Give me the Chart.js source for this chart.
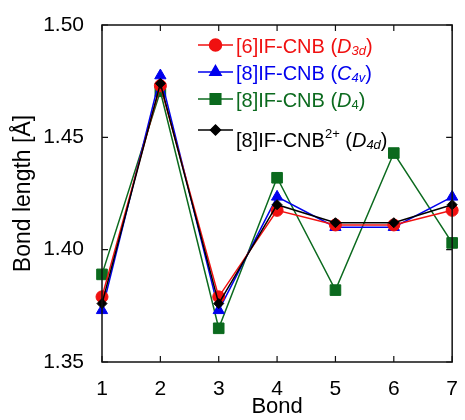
<!DOCTYPE html>
<html>
<head>
<meta charset="utf-8">
<script src="https://cdn.jsdelivr.net/npm/chart.js@4/dist/chart.umd.min.js"></script>
<style>
  body { margin: 0; background: #fff; }
  #wrap { width: 465px; height: 420px; }
</style>
</head>
<body>
<div id="wrap"><canvas id="bondChart" width="465" height="420"></canvas></div>
<script>
var bonds = [1, 2, 3, 4, 5, 6, 7];
var d3dValues = [1.379, 1.473, 1.379, 1.4175, 1.411, 1.411, 1.4175];
var c4vValues = [1.373, 1.4775, 1.373, 1.4235, 1.410, 1.410, 1.4235];
var d4Values = [1.389, 1.4705, 1.365, 1.432, 1.382, 1.443, 1.403];
var d4dValues = [1.376, 1.474, 1.376, 1.420, 1.412, 1.412, 1.420];
var yTicks = [1.35, 1.40, 1.45, 1.50];

var FONT = "'Liberation Sans', Arial, sans-serif";
var RED = "#f01010", BLUE = "#0000ee", GREEN = "#0b6a1e", BLACK = "#000000";

function pts(vals) {
  return vals.map(function (v, i) { return { x: bonds[i], y: v }; });
}

// legend rows: text pieces [text, italic, "sub"/"sup"/null]
var legendRows = [
  { ds: 0, color: RED, parts: [["[6]IF-CNB (", false, null], ["D", true, null], ["3d", true, "sub"], [")", false, null]] },
  { ds: 1, color: BLUE, parts: [["[8]IF-CNB (", false, null], ["C", true, null], ["4v", true, "sub"], [")", false, null]] },
  { ds: 2, color: GREEN, parts: [["[8]IF-CNB (", false, null], ["D", true, null], ["4", false, "sub"], [")", false, null]] },
  { ds: 3, color: BLACK, parts: [["[8]IF-CNB", false, null], ["2+", false, "sup"], [" (", false, null], ["D", true, null], ["4d", true, "sub"], [")", false, null]] }
];
var legendY = [45, 72, 99, 130];
var legendTextY = [46, 73, 100, 140];

var framePlugin = {
  id: "frame",
  afterDraw: function (chart) {
    var ctx = chart.ctx, a = chart.chartArea;
    var xs = chart.scales.x, ys = chart.scales.y;
    ctx.save();
    ctx.strokeStyle = "#111";
    ctx.lineWidth = 1.5;
    ctx.strokeRect(a.left, a.top, a.right - a.left, a.bottom - a.top);
    ctx.lineWidth = 1.2;
    ctx.beginPath();
    bonds.forEach(function (b) {
      var px = xs.getPixelForValue(b);
      ctx.moveTo(px, a.bottom); ctx.lineTo(px, a.bottom - 6);
      ctx.moveTo(px, a.top); ctx.lineTo(px, a.top + 6);
    });
    yTicks.forEach(function (t) {
      var py = ys.getPixelForValue(t);
      ctx.moveTo(a.left, py); ctx.lineTo(a.left + 6, py);
      ctx.moveTo(a.right, py); ctx.lineTo(a.right - 6, py);
    });
    ctx.stroke();

    // legend
    legendRows.forEach(function (row, i) {
      var ds = chart.data.datasets[row.ds];
      var y = legendY[i];
      ctx.strokeStyle = row.color;
      ctx.lineWidth = 1.5;
      ctx.beginPath();
      ctx.moveTo(198, y); ctx.lineTo(233, y);
      ctx.stroke();
      ctx.fillStyle = row.color;
      Chart.helpers.drawPoint(ctx, {
        pointStyle: ds.pointStyle, radius: ds.pointRadius, rotation: 0, borderWidth: 1
      }, 215.5, y);
      ctx.fill();
      var x = 236;
      var ty = legendTextY[i];
      ctx.textBaseline = "alphabetic";
      row.parts.forEach(function (p) {
        var size = p[2] ? 13 : 20;
        var dy = p[2] === "sub" ? 2 : (p[2] === "sup" ? -9 : 0);
        ctx.font = (p[1] ? "italic " : "") + size + "px " + FONT;
        ctx.fillText(p[0], x, ty + 7 + dy);
        x += ctx.measureText(p[0]).width;
      });
    });
    ctx.restore();
  }
};

function series(label, vals, color, style, radius, order) {
  return {
    label: label,
    data: pts(vals),
    borderColor: color,
    backgroundColor: color,
    pointBackgroundColor: color,
    pointBorderColor: color,
    pointStyle: style,
    pointRadius: radius,
    pointBorderWidth: 1,
    borderWidth: 1.5,
    tension: 0,
    order: order
  };
}

new Chart(document.getElementById("bondChart"), {
  type: "line",
  data: {
    datasets: [
      series("[6]IF-CNB (D3d)", d3dValues, RED, "circle", 6, 1),
      series("[8]IF-CNB (C4v)", c4vValues, BLUE, "triangle", 6.5, 2),
      series("[8]IF-CNB (D4)", d4Values, GREEN, "rect", 7.5, 3),
      series("[8]IF-CNB2+ (D4d)", d4dValues, BLACK, "rectRot", 5, 0)
    ]
  },
  options: {
    responsive: false,
    animation: false,
    clip: false,
    layout: { padding: { left: 0, right: 7, top: 25, bottom: 0 } },
    plugins: { legend: { display: false }, tooltip: { enabled: false } },
    scales: {
      x: {
        type: "linear",
        min: 1, max: 7,
        afterFit: function (s) { s.height = 58; },
        afterBuildTicks: function (s) { s.ticks = bonds.map(function (b) { return { value: b }; }); },
        grid: { display: false },
        border: { display: false },
        ticks: { color: "#000", font: { family: FONT, size: 21 }, padding: 7, maxRotation: 0 },
        title: { display: true, text: "Bond", color: "#000", font: { family: FONT, size: 22 }, padding: { top: 0, bottom: 0 } }
      },
      y: {
        min: 1.35, max: 1.50,
        afterFit: function (s) { s.width = 102; },
        afterBuildTicks: function (s) { s.ticks = yTicks.map(function (t) { return { value: t }; }); },
        grid: { display: false },
        border: { display: false },
        ticks: {
          color: "#000", font: { family: FONT, size: 21 }, padding: 10,
          callback: function (v) { return v.toFixed(2); }
        },
        title: { display: true, text: "Bond length [Å]", color: "#000", font: { family: FONT, size: 23 }, padding: { top: 10, bottom: 0 } }
      }
    }
  },
  plugins: [framePlugin]
});
</script>
</body>
</html>
